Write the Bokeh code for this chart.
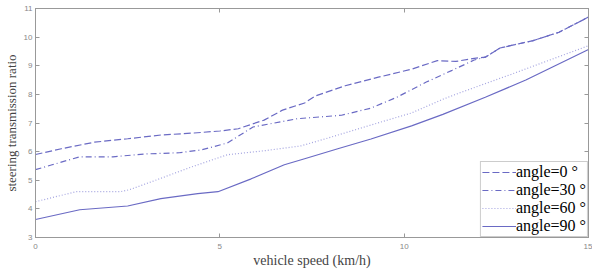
from bokeh.plotting import figure
from bokeh.models import LinearAxis, Range1d, FixedTicker, Legend, LegendItem
from bokeh.embed import file_html
from bokeh.resources import INLINE

# data
x0 = [0, 0.7, 1.6, 2.5, 3.4, 4.3, 5.0, 5.5, 6.2, 6.7, 7.3, 7.6, 8.4, 9.3, 10.2, 10.9, 11.4, 11.9, 12.2, 12.6, 13.5, 14.2, 15]
y0 = [5.9, 6.1, 6.33, 6.45, 6.58, 6.65, 6.72, 6.8, 7.1, 7.45, 7.7, 7.95, 8.3, 8.6, 8.88, 9.18, 9.15, 9.26, 9.3, 9.62, 9.88, 10.17, 10.7]

x30 = [0, 0.45, 1.2, 2.1, 3.0, 3.9, 4.5, 5.2, 5.9, 7.1, 8.3, 9.1, 9.8, 10.6, 11.3, 11.9, 12.2, 12.6, 13.5, 14.2, 15]
y30 = [5.37, 5.54, 5.82, 5.82, 5.92, 5.96, 6.06, 6.3, 6.86, 7.15, 7.27, 7.52, 7.9, 8.43, 8.84, 9.2, 9.3, 9.62, 9.88, 10.17, 10.7]

x60 = [0, 1.1, 2.3, 2.55, 3.3, 4.2, 5.2, 6.2, 7.2, 8.0, 9.1, 10.2, 11.05, 11.5, 12.9, 15]
y60 = [4.25, 4.6, 4.6, 4.67, 5.02, 5.45, 5.89, 6.03, 6.2, 6.5, 6.93, 7.35, 7.83, 8.05, 8.7, 9.7]

x90 = [0, 1.2, 2.5, 3.4, 4.4, 4.95, 5.85, 6.75, 7.3, 8.2, 9.1, 10.2, 11.05, 12.2, 13.3, 15]
y90 = [3.63, 3.97, 4.1, 4.36, 4.53, 4.6, 5.05, 5.54, 5.75, 6.1, 6.44, 6.9, 7.3, 7.9, 8.5, 9.57]

labels = ["angle=0 \u00b0", "angle=30 \u00b0", "angle=60 \u00b0", "angle=90 \u00b0"]
x_ticks = [0, 5, 10, 15]
y_ticks = [3, 4, 5, 6, 7, 8, 9, 10, 11]

p = figure(width=592, height=270, output_backend="svg", toolbar_location=None,
           x_range=Range1d(0, 15), y_range=Range1d(3, 11),
           min_border_left=33, min_border_right=4, min_border_top=8, min_border_bottom=32)
p.xgrid.visible = False
p.ygrid.visible = False
p.outline_line_color = "#999999"
p.background_fill_color = "white"
p.border_fill_color = "white"

col = "#6a6ac4"
r0 = p.line(x0, y0, line_color=col, line_width=1.2, line_dash="7 3")
r30 = p.line(x30, y30, line_color=col, line_width=1.2, line_dash="6 3 1 3")
r60 = p.line(x60, y60, line_color="#a4a4e0", line_width=1.2, line_dash="1 2")
r90 = p.line(x90, y90, line_color=col, line_width=1.2)


def style(ax):
    ax.axis_line_color = "#999999"
    ax.major_tick_line_color = "#999999"
    ax.major_tick_in = 4
    ax.major_tick_out = 0
    ax.minor_tick_line_color = None
    ax.major_label_text_font = "Liberation Sans"
    ax.major_label_text_font_size = "8px"
    ax.major_label_text_color = "#888888"


xa = p.xaxis[0]
xa.ticker = FixedTicker(ticks=x_ticks)
style(xa)
xa.axis_label = "vehicle speed (km/h)"
xa.axis_label_text_font = "Liberation Serif"
xa.axis_label_text_font_style = "normal"
xa.axis_label_text_font_size = "14px"
xa.axis_label_standoff = 1
xa.major_label_standoff = 6

ya = p.yaxis[0]
ya.ticker = FixedTicker(ticks=y_ticks)
style(ya)
ya.axis_label = "steering transmission ratio"
ya.axis_label_text_font = "Liberation Serif"
ya.axis_label_text_font_style = "normal"
ya.axis_label_text_font_size = "13px"
ya.axis_label_standoff = 2
ya.major_label_standoff = 3

top = LinearAxis(ticker=FixedTicker(ticks=x_ticks))
style(top)
top.major_label_overrides = {t: "" for t in x_ticks}
top.major_label_standoff = 0
p.add_layout(top, "above")
right = LinearAxis(ticker=FixedTicker(ticks=y_ticks))
style(right)
right.major_label_overrides = {t: "" for t in y_ticks}
right.major_label_standoff = 0
p.add_layout(right, "right")

legend = Legend(items=[LegendItem(label=labels[0], renderers=[r0]),
                       LegendItem(label=labels[1], renderers=[r30]),
                       LegendItem(label=labels[2], renderers=[r60]),
                       LegendItem(label=labels[3], renderers=[r90])],
                location="bottom_right")
legend.label_text_font = "Liberation Serif"
legend.label_text_font_size = "16px"
legend.label_text_color = "black"
legend.label_height = 18
legend.label_standoff = 0
legend.glyph_width = 34
legend.glyph_height = 18
legend.spacing = 0
legend.padding = 1
legend.margin = 0
legend.border_line_color = "#999999"
legend.background_fill_alpha = 1.0
p.add_layout(legend, "center")

open("out.html", "w").write(file_html(p, INLINE))
